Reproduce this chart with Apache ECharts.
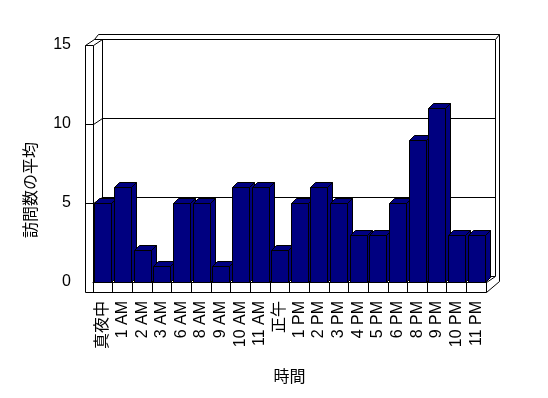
<!DOCTYPE html>
<html>
<head>
<meta charset="utf-8">
<script src="https://cdn.jsdelivr.net/npm/echarts@6/dist/echarts.min.js"></script>
<style>
  html, body { margin: 0; padding: 0; background: #fff; }
  #visitChart { width: 548px; height: 398px; }
</style>
</head>
<body>
<div id="visitChart"></div>
<script>
// 時間帯ごとの訪問数の平均
var hours = ['真夜中', '1 AM', '2 AM', '3 AM', '6 AM', '8 AM', '9 AM', '10 AM', '11 AM', '正午',
             '1 PM', '2 PM', '3 PM', '4 PM', '5 PM', '6 PM', '8 PM', '9 PM', '10 PM', '11 PM'];
var avgVisits = [5, 6, 2, 1, 5, 5, 1, 6, 6, 2, 5, 6, 5, 3, 3, 5, 9, 11, 3, 3];
var yTicks = [0, 5, 10, 15];

var font = "'Liberation Sans', 'Noto Sans CJK JP', sans-serif";

// plot area (front plane) and the fake 3D depth
var L = 93, R = 486, T = 45, B = 282;
var DX = 9, DY = -6;      // wall depth
var BAR_D = 5;            // bar depth
var yMax = yTicks[yTicks.length - 1];
function yPix(v) { return Math.round(B - (B - T) * v / yMax); }

var frame = [];
function line(pts) {
    frame.push({
        type: 'polyline',
        shape: { points: pts.map(function (p) { return [p[0] + 0.5, p[1] + 0.5]; }) },
        style: { stroke: '#000', lineWidth: 1, fill: null },
        silent: true
    });
}
// left wall front face
line([[L - 8, B + 10], [L - 8, T], [L, T], [L, B]]);
yTicks.slice(1, -1).forEach(function (v) {
    line([[L - 8, yPix(v)], [L, yPix(v)]]);
});
// left wall inner face lines
yTicks.forEach(function (v) {
    line([[L, yPix(v)], [L + DX, yPix(v) + DY]]);
});
line([[L + DX, T + DY], [L + DX, B + DY]]);
// top of the walls
line([[L - 8, T], [L - 8 + DX, T + DY], [L + DX, T + DY]]);
line([[L - 8 + DX, T + DY], [L - 4 + DX, T + DY - 5], [R + DX + 4, T + DY - 5], [R + DX, T + DY]]);
// back wall right edge and floor
line([[R + DX + 4, T + DY - 5], [R + DX + 4, B - 1], [R, B + 10]]);
line([[R + DX, T + DY], [R + DX, B + DY], [R, B]]);
line([[L - 8, B + 10], [R, B + 10], [R, B]]);

var visitChart = echarts.init(document.getElementById('visitChart')),
visitOption = {
    animation: false,
    backgroundColor: '#fff',
    grid: [
        { left: L, right: 548 - R, top: T, bottom: 398 - B },
        { left: L + DX, right: 548 - R - DX, top: T + DY, bottom: 398 - B - DY }
    ],
    xAxis: [
        {
            type: 'category',
            gridIndex: 0,
            data: hours,
            boundaryGap: true,
            name: '時間',
            nameLocation: 'middle',
            nameGap: 88,
            nameTextStyle: { fontFamily: font, fontSize: 16, color: '#000' },
            axisLine: { show: true, lineStyle: { color: '#000', width: 1 } },
            axisTick: { show: true, length: 10, interval: 0, lineStyle: { color: '#000', width: 1 } },
            axisLabel: {
                interval: 0,
                rotate: 90,
                margin: 19,
                fontFamily: font,
                fontSize: 16,
                color: '#000'
            },
            splitLine: { show: false }
        },
        {
            type: 'category',
            gridIndex: 1,
            data: hours,
            show: false
        }
    ],
    yAxis: [
        {
            type: 'value',
            gridIndex: 0,
            min: 0,
            max: yMax,
            interval: 5,
            axisLine: { show: false },
            axisTick: { show: false },
            splitLine: { show: false },
            axisLabel: { margin: 22, fontFamily: font, fontSize: 16, color: '#000' }
        },
        {
            type: 'value',
            gridIndex: 1,
            min: 0,
            max: yMax,
            interval: 5,
            axisLine: { show: false },
            axisTick: { show: false },
            axisLabel: { show: false },
            splitLine: { show: true, lineStyle: { color: '#000', width: 1 } }
        }
    ],
    graphic: frame.concat([
        {
            type: 'text',
            x: 24,
            y: 190,
            rotation: Math.PI / 2,
            style: {
                text: '訪問数の平均',
                fontFamily: font,
                fontSize: 16,
                fill: '#000',
                align: 'center',
                verticalAlign: 'top'
            },
            silent: true
        }
    ]),
    series: [
        {
            type: 'custom',
            xAxisIndex: 0,
            yAxisIndex: 0,
            data: avgVisits.map(function (v, i) { return [i, v]; }),
            renderItem: function (params, api) {
                var top = api.coord([api.value(0), api.value(1)]);
                var base = api.coord([api.value(0), 0]);
                var bw = Math.round(api.size([1, 0])[0] * 0.86);
                var x0 = Math.round(top[0] - bw / 2) + 0.5, x1 = x0 + bw;
                var ty = Math.round(top[1]) + 0.5, by = Math.round(base[1]) + 0.5;
                var d = BAR_D;
                var st = { fill: '#000080', stroke: '#000', lineWidth: 1 };
                return {
                    type: 'group',
                    children: [
                        { type: 'polygon', shape: { points: [[x1, ty], [x1 + d, ty - d], [x1 + d, by - d], [x1, by]] }, style: st },
                        { type: 'polygon', shape: { points: [[x0, ty], [x1, ty], [x1 + d, ty - d], [x0 + d, ty - d]] }, style: st },
                        { type: 'rect', shape: { x: x0, y: ty, width: bw, height: by - ty }, style: st }
                    ]
                };
            }
        }
    ]
};
visitChart.setOption(visitOption);
</script>
</body>
</html>
